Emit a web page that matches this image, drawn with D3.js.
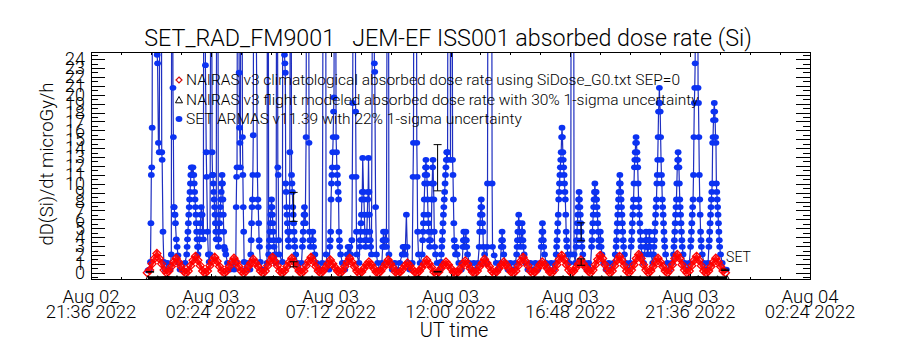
<!DOCTYPE html>
<html>
<head>
<meta charset="utf-8">
<script src="https://cdn.jsdelivr.net/npm/d3@7"></script>
<style>
  body { margin: 0; background: #fff; }
  text { font-family: Roboto, "Liberation Sans", Arial, sans-serif; font-weight: 300; fill: #000; }
</style>
</head>
<body>
<svg id="chart" width="900" height="350"></svg>
<script>
// all times: minutes after 2022-08-03 00:00 UT
var t0 = Date.UTC(2022, 7, 3, 0, 0)

var yRange = [-0.7, 24.8]
var yTicks = [0,1,2,3,4,5,6,7,8,9,10,11,12,13,14,15,16,17,18,19,20,21,22,23,24]
var yMinorTicks = [-0.5,0.5,1.5,2.5,3.5,4.5,5.5,6.5,7.5,8.5,9.5,10.5,11.5,12.5,13.5,14.5,15.5,16.5,17.5,18.5,19.5,20.5,21.5,22.5,23.5,24.5]
var xTickTimes = ["2022-08-02T21:36Z","2022-08-03T02:24Z","2022-08-03T07:12Z","2022-08-03T12:00Z","2022-08-03T16:48Z","2022-08-03T21:36Z","2022-08-04T02:24Z"]
var xTickDay = ["Aug 02","Aug 03","Aug 03","Aug 03","Aug 03","Aug 03","Aug 04"]
var xTickClock = ["21:36 2022","02:24 2022","07:12 2022","12:00 2022","16:48 2022","21:36 2022","02:24 2022"]

// SET ARMAS v11.39  [minute, microGy/h]  (values > 24.8 run off the top)
var setArmas = [
[-7,0.26],[-4,0.36],[-1,1.21],[0,5.57],[1,10.99],[2,11.84],[3,16.3],[4,45],[8,60],[13,45],[15,24.49],[16,23.53],[18,14.6],[20,13.54],[22,40],[25,40],[26,13.54],[27,12.69],[29,4.61],[31,1.21],[34,0.36],[40,1.11],[46,0.36],
[49,2.06],[50,40],[52,40],[53,20.77],[54,15.24],[55,7.38],[56,7.38],[57,6.53],[58,6.53],[59,5.57],[61,3.76],[63,2.91],[65,1.96],[67,1.11],[70,0.36],[76,0.36],[82,1.11],
[86,2.06],[87,2.91],[88,3.76],[89,4.61],[90,5.57],[91,6.53],[92,7.38],[93,8.23],[94,9.08],[95,10.03],[96,10.99],[97,11.84],[99,10.99],[101,11.84],[103,10.99],[104,10.03],[105,9.08],[106,8.23],[107,7.38],[108,6.53],[109,5.57],[110,4.61],[111,3.76],[112,2.91],[113,2.06],[115,2.91],[117,3.76],[118,4.61],[119,5.57],[120,6.53],[121,7.38],[123,6.53],[124,4.61],[126,3.76],
[127,40],[130,40],[131,23.32],[133,13.54],[134,10.78],[136,4.61],[138,2.06],[140,1.21],[142,2.06],[144,40],[146,40],[147,13.54],[148,10.99],
[149,10.99],[150,10.03],[151,9.08],[152,8.23],[153,7.38],[154,6.53],[155,5.57],[156,4.61],[157,3.76],[158,40],[161,40],[162,2.91],[163,3.76],[164,4.61],[165,5.57],[166,6.53],[167,7.38],[168,8.23],[169,9.08],[170,10.03],[171,10.99],[172,10.03],[173,8.23],[174,6.53],[175,4.61],[176,2.91],[178,2.59],[180,2.06],[184,1.11],[190,0.36],[196,1.11],[200,0.36],
[204,1.21],[205,7.38],[206,10.78],[207,11.84],[208,40],[211,40],[212,22.47],[213,16.3],[214,14.6],[215,11.84],[216,40],[219,40],[220,15.24],[221,10.99],[222,7.38],[223,4.61],[224,1.21],[228,0.36],
[234,1.11],[238,0.36],[240,2.06],[241,3.66],[242,5.57],[243,7.38],[244,8.23],[245,10.99],[246,15.45],[247,40],[251,40],[256,10.99],[257,8.23],[258,7.38],[259,5.57],[260,3.66],[261,2.91],[263,1.21],[268,0.36],
[279,1.11],[280,40],[282,40],[283,2.06],[284,2.91],[285,3.66],[286,4.61],[287,5.57],[288,6.53],[289,7.38],[290,8.23],[291,7.38],[292,6.53],[293,5.57],[294,4.61],[295,3.66],[296,2.91],[298,2.06],[301,1.11],
[302,40],[304,40],[305,11.84],[306,10.99],[307,3.66],[308,2.06],
[316,1.21],[317,40],[320,40],[321,24.49],[322,23.53],[323,22.47],[324,10.03],[325,9.08],[326,7.38],[327,6.53],[328,5.57],[329,4.61],[330,3.66],[331,2.91],[333,4.61],[334,13.54],[335,40],[337,40],[338,10.99],[339,10.03],[340,9.08],[341,7.38],[342,6.53],[343,5.57],[344,4.61],[345,3.66],[346,2.91],[348,2.06],[352,1.11],[356,0.36],
[362,1.11],[364,2.91],[365,3.66],[366,4.61],[367,5.57],[368,6.53],[369,7.38],[370,6.53],[371,5.57],[373,15.24],[374,40],[379,40],[380,14.6],[381,4.61],[382,3.66],[383,2.91],
[389,4.61],[390,3.66],[391,2.91],[394,2.06],[398,1.11],[404,0.36],
[412,1.11],[414,40],[420,40],[421,2.06],[424,1.11],[428,0.36],
[430,2.91],[431,3.66],[432,4.61],[433,8.23],[434,10.03],[435,10.99],[436,11.84],[437,13.54],[438,15.24],[439,18.11],[440,19.7],[441,40],[444,40],[445,15.24],[446,13.54],[447,11.84],[448,10.99],[449,10.03],[450,9.08],[451,8.23],[452,4.61],[453,3.66],[454,2.91],[456,2.06],[460,1.11],[466,0.36],
[470,1.11],[472,2.06],[474,2.91],[476,2.06],[478,2.91],[480,2.06],[483,3.66],[484,10.78],[485,19.07],[486,40],[491,40],[492,18.11],[493,10.78],[494,4.61],[495,2.06],
[500,1.11],[502,2.91],[503,3.66],[504,4.61],[505,5.57],[506,6.53],[507,8.23],[508,9.08],[509,12.9],[511,9.08],[512,8.23],[513,6.53],[514,4.61],[515,3.66],[516,2.91],[518,3.66],[519,4.61],[520,6.53],[521,8.23],[522,9.08],[523,12.9],[524,9.08],[525,6.53],[526,4.61],[527,3.66],[528,2.91],[530,2.06],
[533,40],[536,40],[537,23.53],[538,22.57],[540,7.38],[542,2.06],[545,1.11],[550,0.36],
[555,1.11],[557,2.91],[558,3.66],[559,4.61],[560,3.66],[561,2.91],[563,3.66],[564,4.61],[565,3.66],[566,2.91],[568,40],[571,40],[572,2.06],[575,1.11],[580,0.36],[586,1.11],[592,0.36],[598,1.11],
[604,2.06],[606,2.91],[607,2.06],[609,2.91],[611,2.06],[614,6.53],[616,2.91],[618,1.11],[622,0.36],
[628,1.11],[630,10.78],[631,14.6],[632,40],[638,40],[639,14.6],[640,10.78],[641,4.61],[643,2.06],[647,1.11],
[652,2.06],[653,3.66],[654,4.61],[655,5.57],[656,6.53],[657,8.23],[658,10.03],[659,10.99],[660,11.84],[661,12.69],[662,11.84],[663,10.99],[664,10.03],[665,8.23],[666,6.53],[667,5.57],[668,4.61],[669,3.66],[670,2.91],[672,3.66],[674,4.61],[675,8.23],[676,10.03],[677,11.84],[678,12.69],[679,10.03],[680,8.23],[681,4.61],[682,2.91],[684,2.06],
[688,1.11],[694,0.36],[697,1.21],[698,2.06],[699,2.91],[700,3.66],[701,4.61],[702,5.57],[703,6.53],[704,7.38],[705,8.23],[706,9.08],[707,10.03],[708,10.99],[709,11.84],[710,12.69],[711,13.54],[712,12.69],[713,13.54],[714,40],[719,40],[720,12.69],[721,40],[724,40],[725,12.69],[726,10.99],[727,8.23],[728,5.57],[729,3.66],[730,2.91],[732,2.06],[734,2.91],[736,2.06],[740,1.11],[746,0.36],
[748,1.11],[750,2.91],[751,3.66],[752,4.61],[753,3.66],[754,2.91],[756,3.66],[757,4.61],[758,3.66],[759,2.91],[761,2.06],[765,1.11],[770,0.36],
[776,1.11],[782,0.36],[786,1.11],[789,2.91],[790,4.61],[791,5.57],[792,6.53],[793,7.38],[794,8.23],[795,7.38],[796,6.53],[797,5.57],[798,4.61],[799,2.91],[802,2.06],[806,1.11],[808,2.91],[809,10.03],[810,40],[819,40],[820,10.03],[821,2.91],[825,1.96],[830,1.11],[835,0.36],
[840,1.11],[842,2.91],[843,3.66],[844,4.61],[845,3.66],[846,2.91],[848,2.06],[852,1.11],[858,0.36],[864,1.11],[870,0.36],[876,1.11],
[879,2.06],[880,2.91],[881,3.66],[882,4.61],[883,5.57],[884,6.53],[885,5.57],[886,4.61],[887,3.66],[888,2.91],[890,3.66],[891,4.61],[892,5.57],[893,4.61],[894,3.66],[895,2.91],[897,2.06],[901,1.11],[906,0.36],[912,1.11],[918,0.36],[924,1.11],[930,0.36],
[936,1.11],[938,2.91],[939,3.66],[940,4.61],[941,5.57],[942,4.61],[943,3.66],[944,2.91],[946,2.06],[950,1.11],[956,0.36],[962,1.11],[968,0.36],
[972,1.11],[974,2.06],[975,2.91],[976,3.66],[977,4.61],[978,5.57],[979,6.53],[980,8.23],[981,9.08],[982,10.03],[983,10.99],[984,11.84],[985,12.69],[986,13.54],[987,15.24],[988,16.3],[989,15.24],[990,13.54],[991,12.69],[992,11.84],[993,10.99],[994,10.03],[995,9.08],[996,8.23],[997,6.53],[998,4.61],[999,3.66],[1000,2.91],[1002,2.06],[1005,1.11],
[1009,2.06],[1010,40],[1016,40],[1017,2.06],
[1020,1.11],[1022,2.91],[1023,3.66],[1024,4.61],[1025,5.57],[1026,6.53],[1027,7.38],[1028,8.23],[1029,9.08],[1030,8.23],[1031,7.38],[1032,6.53],[1033,5.57],[1034,4.61],[1035,3.66],[1036,2.91],[1038,2.06],[1042,1.11],[1048,0.36],[1052,1.11],[1056,0.36],
[1059,2.91],[1060,3.66],[1061,4.61],[1062,5.57],[1063,6.53],[1064,7.38],[1065,8.23],[1066,9.08],[1067,10.03],[1068,9.08],[1069,8.23],[1070,9.08],[1071,8.23],[1072,7.38],[1073,6.53],[1074,5.57],[1075,4.61],[1076,3.66],[1077,2.91],[1079,3.66],[1080,4.61],[1081,3.66],[1082,2.91],[1084,2.06],[1088,1.11],[1094,0.36],[1100,1.11],[1106,0.36],[1112,1.11],
[1116,2.06],[1118,2.91],[1119,3.66],[1120,4.61],[1121,5.57],[1122,6.53],[1123,7.38],[1124,8.23],[1125,9.08],[1126,10.03],[1127,10.99],[1128,10.03],[1129,9.08],[1130,8.23],[1131,7.38],[1132,6.53],[1133,5.57],[1134,4.61],[1135,3.66],[1136,2.91],[1138,2.06],[1142,1.11],[1148,0.36],
[1152,1.11],[1154,2.91],[1155,3.66],[1156,4.61],[1157,5.57],[1158,6.53],[1159,7.38],[1160,8.23],[1161,10.03],[1162,11.84],[1163,12.69],[1164,13.54],[1165,14.6],[1166,15.24],[1167,14.6],[1168,13.54],[1169,12.69],[1170,11.84],[1171,10.03],[1172,8.23],[1173,7.38],[1174,6.53],[1175,5.57],[1176,4.61],[1177,3.66],[1178,2.91],[1180,2.06],[1184,1.11],
[1188,2.91],[1189,3.66],[1190,4.61],[1191,3.66],[1192,2.91],[1194,2.06],[1196,2.91],[1197,3.66],[1198,4.61],[1199,3.66],[1200,2.91],[1202,2.06],[1206,1.11],
[1208,2.06],[1209,2.91],[1210,3.66],[1211,4.61],[1212,5.57],[1213,6.53],[1214,7.38],[1215,8.23],[1216,10.03],[1217,10.99],[1218,12.69],[1219,15.24],[1220,18.11],[1221,19.07],[1222,20.77],[1223,19.07],[1224,18.11],[1225,15.24],[1226,12.69],[1227,10.99],[1228,10.03],[1229,8.23],[1230,7.38],[1231,6.53],[1232,5.57],[1233,4.61],[1234,3.66],[1235,2.91],[1237,2.06],[1241,1.11],[1246,0.36],[1252,1.11],
[1256,2.06],[1257,2.91],[1258,3.66],[1259,4.61],[1260,5.57],[1261,6.53],[1262,7.38],[1263,8.23],[1264,10.03],[1265,11.84],[1266,12.69],[1267,13.54],[1268,12.69],[1269,11.84],[1270,10.03],[1271,8.23],[1272,7.38],[1273,6.53],[1274,5.57],[1275,4.61],[1276,3.66],[1277,2.91],[1279,2.06],[1283,1.11],[1288,0.36],
[1294,1.11],[1297,2.91],[1298,3.66],[1299,4.61],[1300,5.57],[1301,6.53],[1302,7.38],[1303,8.23],[1304,10.99],[1305,15.24],[1306,19.07],[1307,20.77],[1308,23.53],[1309,40],[1314,40],[1315,20.77],[1316,19.07],[1317,15.24],[1318,10.99],[1319,8.23],[1320,6.53],[1321,4.61],[1322,3.66],[1323,2.91],[1325,2.06],[1329,1.11],[1334,0.36],
[1339,1.11],[1341,2.91],[1342,3.66],[1343,4.61],[1344,5.57],[1345,6.53],[1346,7.38],[1347,8.23],[1348,9.08],[1349,10.03],[1350,14.6],[1351,15.24],[1352,17.15],[1353,18.11],[1354,19.07],[1355,18.11],[1356,17.15],[1357,15.24],[1358,14.6],[1359,10.03],[1360,9.08],[1361,8.23],[1362,7.38],[1363,6.53],[1364,5.57],[1365,4.61],[1366,3.66],[1367,2.91],[1369,2.06],[1373,1.11],[1378,0.36],[1383,0.36]
]

// NAIRAS v3 climatological, sampled every 5.79 min from minute -8.8
var climStartMin = -8.8, climStepMin = 5.79
var climDose = [
0.0,0.3,1.0,1.6,2.17,1.6,1.0,0.3, 0.0,0.2,0.7,1.2,1.64,1.2,0.7,0.2, 0.0,0.2,0.8,1.4,1.85,1.4,0.8,0.2,
0.0,0.2,0.8,1.3,1.74,1.3,0.7,0.2, 0.0,0.2,0.7,1.2,1.64,1.2,0.7,0.2, -0.05,0.2,0.7,1.1,1.53,1.1,0.7,0.2,
0.0,0.2,0.8,1.3,1.74,1.3,0.8,0.2, 0.0,0.2,0.7,1.2,1.64,1.2,0.7,0.2, 0.0,0.2,0.8,1.3,1.74,1.3,0.7,0.2,
0.0,0.2,0.6,1.0,1.43,1.0,0.6,0.2, 0.0,0.2,0.7,1.2,1.64,1.2,0.7,0.2, -0.05,0.1,0.5,0.9,1.21,0.9,0.5,0.1,
0.0,0.2,0.6,1.0,1.43,1.0,0.6,0.1, -0.05,0.1,0.4,0.8,1.11,0.8,0.4,0.1, 0.0,0.2,0.6,1.0,1.43,1.0,0.6,0.1,
-0.05,0.1,0.5,0.9,1.21,0.9,0.5,0.1, 0.0,0.1,0.5,1.0,1.32,1.0,0.5,0.1, 0.0,0.2,0.7,1.1,1.53,1.1,0.7,0.2,
-0.05,0.1,0.5,0.9,1.21,0.9,0.5,0.1, 0.0,0.2,0.8,1.3,1.74,1.3,0.8,0.2, -0.05,0.1,0.5,0.9,1.21,0.9,0.5,0.1,
0.0,0.3,0.9,1.5,1.96,1.5,0.9,0.3, 0.0,0.2,0.6,1.0,1.43,1.0,0.6,0.2, 0.0,0.3,0.9,1.5,1.96,1.6,0.9,0.3,
0.0,0.2,0.8,1.4,1.85,1.4,0.8,0.2, 0.0,0.3,0.9,1.6,2.06,1.6,0.9,0.3, 0.0,0.2,0.7,1.2,1.64,1.2,0.7,0.2,
0.0,0.3,0.9,1.6,2.06,1.6,0.9,0.3, 0.0,0.2,0.8,1.4,1.85,1.4,0.8,0.2, 0.0,0.2,0.7,1.2,1.64,1.2,0.7,0.2,
0.0
]

// NAIRAS v3 flight modeled, every 23.2 min from minute -7 (sits under the zero line)
var flightStartMin = -7, flightStepMin = 23.2
var flightDose = [
-0.55,-0.56,-0.54,-0.55,-0.57,-0.55,-0.54,-0.56,-0.55,-0.55,-0.56,-0.57,-0.55,-0.54,-0.55,-0.56,-0.55,-0.55,-0.57,-0.56,
-0.55,-0.54,-0.55,-0.56,-0.55,-0.55,-0.57,-0.55,-0.54,-0.56,-0.55,-0.55,-0.56,-0.57,-0.55,-0.54,-0.55,-0.56,-0.55,-0.55,
-0.57,-0.56,-0.55,-0.54,-0.55,-0.56,-0.55,-0.55,-0.57,-0.55,-0.54,-0.56,-0.55,-0.55,-0.56,-0.57,-0.55,-0.54,-0.55,-0.56,-0.55
]

// sampled 1-sigma error bars
var setErrMin = [343, 689, 1034, 1380]
var setErrVal = [7.4, 11.8, 4.6, 0.33]
var setErrFrac = 0.22
var flightErrMin = [-2, 343, 689, 1034]
var flightErrVal = [0.1, 0.95, 0.12, 1.2]
var flightErrFrac = 0.30

var legendLabels = [
  "NAIRAS v3 climatological absorbed dose rate using SiDose_G0.txt SEP=0",
  "NAIRAS v3 flight modeled absorbed dose rate with 30% 1-sigma uncertainty",
  "SET ARMAS v11.39 with 22% 1-sigma uncertainty"
]

var dims = { width: 900, height: 350, left: 91, right: 810, top: 52, bottom: 279 }

var toDate = m => new Date(t0 + m * 60000)

var svg = d3.select("#chart")

var xScale = d3.scaleUtc()
  .domain([new Date(xTickTimes[0]), new Date(xTickTimes[xTickTimes.length - 1])])
  .range([dims.left, dims.right])
var yScale = d3.scaleLinear().domain(yRange).range([dims.bottom, dims.top])

svg.append("defs").append("clipPath").attr("id", "plotclip")
  .append("rect")
  .attr("x", dims.left).attr("y", dims.top)
  .attr("width", dims.right - dims.left).attr("height", dims.bottom - dims.top)

var plot = svg.append("g").attr("clip-path", "url(#plotclip)")

var diamond = r => `M0,${-r}L${r},0L0,${r}L${-r},0Z`
var triangle = r => `M0,${-r}L${r},${r * 0.8}L${-r},${r * 0.8}Z`

// SET ARMAS line + dots
var setLine = d3.line().x(d => xScale(toDate(d[0]))).y(d => yScale(d[1]))
plot.append("path").datum(setArmas)
  .attr("d", setLine)
  .attr("fill", "none").attr("stroke", "#1f2fc0").attr("stroke-width", 1.2)
plot.append("g").selectAll("ellipse")
  .data(setArmas.filter(d => d[1] < 25))
  .enter().append("ellipse")
  .attr("cx", d => xScale(toDate(d[0])))
  .attr("cy", d => yScale(d[1]))
  .attr("rx", 3.4).attr("ry", 2.9)
  .attr("fill", "#0b32f2")

// NAIRAS climatological (red diamonds)
var clim = climDose.map((v, i) => [climStartMin + i * climStepMin, v])
plot.append("path").datum(clim)
  .attr("d", setLine)
  .attr("fill", "none").attr("stroke", "#ff1010").attr("stroke-width", 3.5)
plot.append("g").selectAll("path")
  .data(clim)
  .enter().append("path")
  .attr("d", diamond(4))
  .attr("transform", d => `translate(${xScale(toDate(d[0]))},${yScale(d[1])})`)
  .attr("fill", "none").attr("stroke", "#ff0000").attr("stroke-width", 1.3)

// NAIRAS flight modeled (black triangles)
var flight = flightDose.map((v, i) => [flightStartMin + i * flightStepMin, v])
plot.append("path").datum(flight)
  .attr("d", setLine)
  .attr("fill", "none").attr("stroke", "#000").attr("stroke-width", 3)
plot.append("g").selectAll("path")
  .data(flight)
  .enter().append("path")
  .attr("d", triangle(2))
  .attr("transform", d => `translate(${xScale(toDate(d[0]))},${yScale(d[1])})`)
  .attr("fill", "none").attr("stroke", "#000")

// error bars
function errorBars(mins, vals, frac) {
  var g = plot.append("g").attr("stroke", "#000").attr("stroke-width", 1)
  mins.forEach((m, i) => {
    var x = xScale(toDate(m))
    var y1 = yScale(vals[i] * (1 - frac)), y2 = yScale(vals[i] * (1 + frac))
    g.append("line").attr("x1", x).attr("x2", x).attr("y1", y1).attr("y2", y2)
    g.append("line").attr("x1", x - 4).attr("x2", x + 4).attr("y1", y1).attr("y2", y1)
    g.append("line").attr("x1", x - 4).attr("x2", x + 4).attr("y1", y2).attr("y2", y2)
  })
}
errorBars(setErrMin, setErrVal, setErrFrac)
errorBars(flightErrMin, flightErrVal, flightErrFrac)

svg.append("text")
  .attr("x", xScale(toDate(setErrMin[setErrMin.length - 1])) + 1)
  .attr("y", yScale(1.2))
  .style("font-size", "14px")
  .text("SET")

// axes
var xMinor = d3.range(0, 25).map(i => d3.utcMinute.offset(xScale.domain()[0], i * 72))
var xMajor = xTickTimes.map(s => new Date(s))

function styleAxis(g) {
  g.selectAll("path, line").attr("stroke", "#000").attr("stroke-width", 1).attr("shape-rendering", "crispEdges")
  g.selectAll("text").remove()
}

svg.append("g").attr("transform", `translate(0,${dims.bottom})`)
  .call(d3.axisBottom(xScale).tickValues(xMinor).tickSizeInner(-2.5).tickSizeOuter(0)).call(styleAxis)
svg.append("g").attr("transform", `translate(0,${dims.bottom})`)
  .call(d3.axisBottom(xScale).tickValues(xMajor).tickSizeInner(-5).tickSizeOuter(0)).call(styleAxis)
svg.append("g").attr("transform", `translate(0,${dims.top})`)
  .call(d3.axisTop(xScale).tickValues(xMinor).tickSizeInner(-2.5).tickSizeOuter(0)).call(styleAxis)
svg.append("g").attr("transform", `translate(0,${dims.top})`)
  .call(d3.axisTop(xScale).tickValues(xMajor).tickSizeInner(-5).tickSizeOuter(0)).call(styleAxis)
svg.append("g").attr("transform", `translate(${dims.right},0)`)
  .call(d3.axisRight(yScale).tickValues(yTicks).tickSizeInner(-14).tickSizeOuter(0)).call(styleAxis)
svg.append("g").attr("transform", `translate(${dims.right},0)`)
  .call(d3.axisRight(yScale).tickValues(yMinorTicks).tickSizeInner(-7).tickSizeOuter(0)).call(styleAxis)
svg.append("g").attr("transform", `translate(${dims.left},0)`)
  .call(d3.axisLeft(yScale).tickValues(yMinorTicks).tickSizeInner(-7).tickSizeOuter(0)).call(styleAxis)

var yAxis = svg.append("g").attr("transform", `translate(${dims.left},0)`)
  .call(d3.axisLeft(yScale).tickValues(yTicks).tickSizeInner(-14).tickSizeOuter(0).tickPadding(6))
yAxis.selectAll("path, line").attr("stroke", "#000").attr("shape-rendering", "crispEdges")
yAxis.selectAll("text").style("font-size", "18px").attr("fill", "#000")
  .style("font-family", 'Roboto, "Liberation Sans", Arial, sans-serif').style("font-weight", 300)

// two-line x tick labels
var xLab = svg.append("g").attr("text-anchor", "middle").style("font-size", "18.5px")
xMajor.forEach((d, i) => {
  xLab.append("text").attr("x", xScale(d)).attr("y", 303).text(xTickDay[i])
  xLab.append("text").attr("x", xScale(d)).attr("y", 318).text(xTickClock[i])
})

// titles
svg.append("text")
  .attr("x", 448).attr("y", 46)
  .attr("text-anchor", "middle")
  .style("font-size", "23.3px")
  .text("SET_RAD_FM9001\u00a0\u00a0\u00a0JEM-EF ISS001 absorbed dose rate (Si)")
svg.append("text")
  .attr("x", 454).attr("y", 337)
  .attr("text-anchor", "middle")
  .style("font-size", "20px")
  .text("UT time")
svg.append("text")
  .attr("transform", "translate(53,164) rotate(-90)")
  .attr("text-anchor", "middle")
  .style("font-size", "18.5px")
  .text("dD(Si)/dt microGy/h")

// legend
var legend = svg.append("g").style("font-size", "15.5px")
var legY = [80, 100, 119]
legendLabels.forEach((s, i) => {
  legend.append("text").attr("x", 186).attr("y", legY[i] + 5).text(s)
})
legend.append("path").attr("d", diamond(3)).attr("transform", `translate(179,${legY[0]})`)
  .attr("fill", "none").attr("stroke", "#d01010").attr("stroke-width", 1.2)
legend.append("path").attr("d", triangle(3.5)).attr("transform", `translate(179,${legY[1]})`)
  .attr("fill", "none").attr("stroke", "#000")
legend.append("ellipse").attr("cx", 179).attr("cy", legY[2]).attr("rx", 3.4).attr("ry", 2.9)
  .attr("fill", "#0b32f2")
</script>
</body>
</html>
